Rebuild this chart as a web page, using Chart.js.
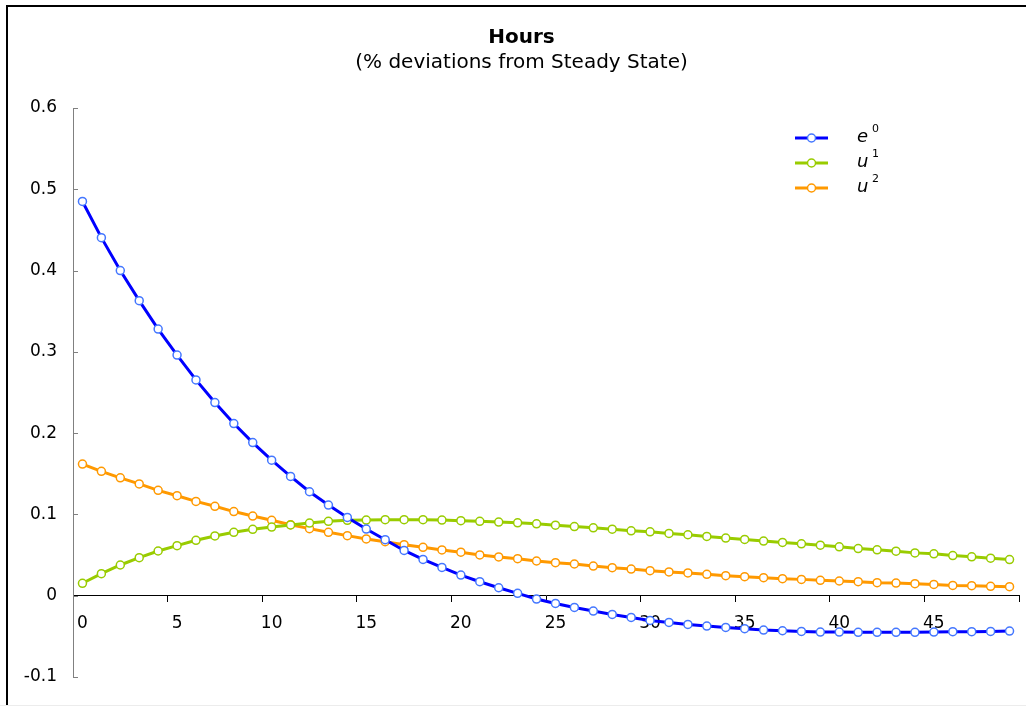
<!DOCTYPE html>
<html>
<head>
<meta charset="utf-8">
<title>Hours</title>
<script src="https://cdn.jsdelivr.net/npm/chart.js@4/dist/chart.umd.min.js"></script>
<style>
  html, body { margin: 0; padding: 0; background: #fff; }
  canvas { display: block; }
</style>
</head>
<body>
<canvas id="hoursChart" width="1026" height="706"></canvas>
<script>
// periods 0..49
const periods = [0, 1, 2, 3, 4, 5, 6, 7, 8, 9, 10, 11, 12, 13, 14, 15, 16, 17, 18, 19,
  20, 21, 22, 23, 24, 25, 26, 27, 28, 29, 30, 31, 32, 33, 34, 35, 36, 37, 38, 39,
  40, 41, 42, 43, 44, 45, 46, 47, 48, 49];
const xTickLabels = ['0', '5', '10', '15', '20', '25', '30', '35', '40', '45'];

// values
const e0 = [0.485, 0.4405, 0.400, 0.363, 0.328, 0.296, 0.2655, 0.2376, 0.2118, 0.1884,
  0.1668, 0.1467, 0.1279, 0.1115, 0.0963, 0.0820, 0.0689, 0.0557, 0.0447, 0.0348,
  0.0254, 0.0172, 0.0098, 0.0029, -0.0041, -0.0095, -0.0144, -0.0189, -0.0230, -0.0267,
  -0.0304, -0.0329, -0.0353, -0.0373, -0.0390, -0.0406, -0.0423, -0.0431, -0.0440, -0.0447,
  -0.0447, -0.0451, -0.0451, -0.0451, -0.0451, -0.0447, -0.0443, -0.0443, -0.0440, -0.0435];
const u1 = [0.0153, 0.0271, 0.0378, 0.0468, 0.0550, 0.0616, 0.0682, 0.0735, 0.0780, 0.0817,
  0.0845, 0.0870, 0.0894, 0.0915, 0.0927, 0.0930, 0.0935, 0.0935, 0.0935, 0.0930,
  0.0923, 0.0915, 0.0906, 0.0897, 0.0884, 0.0868, 0.0851, 0.0835, 0.0819, 0.0798,
  0.0786, 0.0766, 0.0750, 0.0729, 0.0709, 0.0692, 0.0672, 0.0655, 0.0638, 0.0622,
  0.0601, 0.0580, 0.0564, 0.0548, 0.0527, 0.0515, 0.0494, 0.0478, 0.0462, 0.0445];
const u2 = [0.162, 0.153, 0.145, 0.1375, 0.1296, 0.123, 0.116, 0.110, 0.1035, 0.098,
  0.0928, 0.0874, 0.0825, 0.0780, 0.0739, 0.0698, 0.0665, 0.0628, 0.0596, 0.0563,
  0.0535, 0.0502, 0.0477, 0.0456, 0.0427, 0.0406, 0.0390, 0.0365, 0.0345, 0.0328,
  0.0308, 0.0292, 0.0280, 0.0263, 0.0246, 0.0234, 0.0222, 0.0209, 0.0201, 0.0189,
  0.0181, 0.0172, 0.0160, 0.0156, 0.0148, 0.0139, 0.0127, 0.0123, 0.0115, 0.0111];

const seriesNames = ['e', 'u', 'u'];
const seriesSup = ['0', '1', '2'];

const FONT = 'DejaVu Sans';

// line + hollow circle, like the original
const makeSet = (label, data, lineColor, pointColor) => ({
    label: label,
    data: data,
    borderColor: lineColor,
    borderWidth: 3,
    pointRadius: 4,
    pointBorderWidth: 1.5,
    pointBorderColor: pointColor,
    pointBackgroundColor: '#ffffff',
    tension: 0,
});

// frame, inward y ticks and the legend are drawn by hand
const extrasPlugin = {
    id: 'extras',
    beforeDraw(chart) {
        const ctx = chart.ctx;
        ctx.save();
        ctx.fillStyle = '#ffffff';
        ctx.fillRect(0, 0, chart.width, chart.height);
        ctx.fillStyle = '#000000';
        ctx.fillRect(6, 5, 2, chart.height - 6);
        ctx.fillRect(6, 5, chart.width - 6, 2);
        ctx.fillStyle = '#ececec';
        ctx.fillRect(0, chart.height - 1, chart.width, 1);
        ctx.restore();
    },
    afterDraw(chart) {
        const ctx = chart.ctx;
        const yScale = chart.scales.y;
        const left = chart.chartArea.left;
        ctx.save();
        ctx.strokeStyle = '#808080';
        ctx.lineWidth = 1;
        yScale.ticks.forEach((t) => {
            const py = Math.round(yScale.getPixelForValue(t.value)) + 0.5;
            ctx.beginPath();
            ctx.moveTo(left, py);
            ctx.lineTo(left + 5, py);
            ctx.stroke();
        });

        // legend
        const rows = [138, 163, 188];
        chart.data.datasets.forEach((ds, i) => {
            const y = rows[i];
            ctx.strokeStyle = ds.borderColor;
            ctx.lineWidth = 3;
            ctx.beginPath();
            ctx.moveTo(795, y);
            ctx.lineTo(828, y);
            ctx.stroke();
            ctx.beginPath();
            ctx.arc(811.5, y, 4, 0, Math.PI * 2);
            ctx.fillStyle = '#ffffff';
            ctx.fill();
            ctx.lineWidth = 1.5;
            ctx.strokeStyle = ds.pointBorderColor;
            ctx.stroke();

            ctx.fillStyle = '#000000';
            ctx.textBaseline = 'alphabetic';
            ctx.textAlign = 'left';
            ctx.font = 'italic 18px "' + FONT + '"';
            ctx.fillText(seriesNames[i], 857, y + 4);
            ctx.font = '11px "' + FONT + '"';
            ctx.fillText(seriesSup[i], 872, y - 6);
        });
        ctx.restore();
    },
};

const ctx = document.getElementById('hoursChart').getContext('2d');
new Chart(ctx, {
    type: 'line',
    data: {
        labels: periods,
        datasets: [
            makeSet('e0', e0, '#0000ff', '#4477ff'),
            makeSet('u1', u1, '#99cc00', '#99cc00'),
            makeSet('u2', u2, '#ff9900', '#ff9900'),
        ],
    },
    options: {
        responsive: false,
        animation: false,
        layout: { padding: { left: 24, right: 7, top: 0, bottom: 29 } },
        plugins: {
            legend: { display: false },
            tooltip: { enabled: false },
            title: {
                display: true,
                text: 'Hours',
                color: '#000',
                font: { family: FONT, size: 20, weight: 'bold' },
                padding: { top: 26, bottom: 1 },
            },
            subtitle: {
                display: true,
                text: '(% deviations from Steady State)',
                color: '#000',
                font: { family: FONT, size: 20 },
                padding: { top: 0, bottom: 33 },
            },
        },
        scales: {
            x: {
                type: 'category',
                position: { y: 0 },
                offset: true,
                border: { color: '#000', width: 1 },
                grid: {
                    offset: true,
                    drawOnChartArea: false,
                    drawTicks: true,
                    tickLength: 6,
                    color: (c) => (c.index === undefined || c.index % 5 === 0) ? '#000' : 'rgba(0,0,0,0)',
                },
                ticks: {
                    autoSkip: false,
                    maxRotation: 0,
                    padding: 12,
                    color: '#000',
                    font: { family: FONT, size: 17 },
                    callback: function (value) {
                        const lab = String(this.getLabelForValue(value));
                        return xTickLabels.includes(lab) ? lab : '';
                    },
                },
            },
            y: {
                min: -0.1,
                max: 0.6,
                border: { color: '#808080', width: 1 },
                grid: { drawOnChartArea: false, drawTicks: false },
                afterFit: (scale) => { scale.width = 49; },
                ticks: {
                    stepSize: 0.1,
                    padding: 16,
                    color: '#000',
                    font: { family: FONT, size: 17 },
                    callback: (v) => String(Number(v.toFixed(1))),
                },
            },
        },
    },
    plugins: [extrasPlugin],
});
</script>
</body>
</html>
